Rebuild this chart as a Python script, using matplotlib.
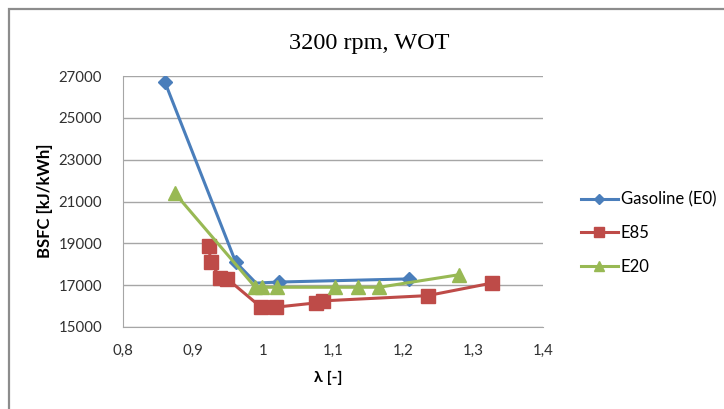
import numpy as np
import matplotlib
matplotlib.use("Agg")
from matplotlib import pyplot as plt
from matplotlib.patches import Rectangle

# lambda [-] and BSFC [kJ/kWh]
lam_e0 = [0.86, 0.961, 0.99, 1.023, 1.209]
bsfc_e0 = [26700, 18100, 17100, 17150, 17300]

lam_e85 = [0.923, 0.925, 0.939, 0.949, 0.997, 1.019, 1.075, 1.086, 1.235, 1.327]
bsfc_e85 = [18850, 18100, 17350, 17300, 15950, 15950, 16150, 16250, 16500, 17100]

lam_e20 = [0.874, 0.989, 0.998, 1.02, 1.103, 1.135, 1.166, 1.28]
bsfc_e20 = [21400, 16900, 16900, 16900, 16900, 16900, 16900, 17500]

series_names = ["Gasoline (E0)", "E85", "E20"]
x_ticks = [0.8, 0.9, 1.0, 1.1, 1.2, 1.3, 1.4]
x_tick_labels = ["0,8", "0,9", "1", "1,1", "1,2", "1,3", "1,4"]
y_ticks = [15000, 17000, 19000, 21000, 23000, 25000, 27000]

W, H = 724, 409
fig = plt.figure(figsize=(W / 100, H / 100), dpi=100)
fig.patch.set_facecolor("white")

# outer chart border (left and top visible)
fig.patches.append(Rectangle((9 / W, -0.1), 1.2, 1.1 - 9 / H,
                             transform=fig.transFigure, fill=False,
                             edgecolor="#8c8c8c", linewidth=1.6))

ax = fig.add_axes([123 / W, 1 - 327 / H, 420 / W, 251 / H])
ax.set_xlim(0.8, 1.4)
ax.set_ylim(15000, 27000)

# the bend point near lambda=1 has no visible marker in the original
ax.plot(lam_e0, bsfc_e0, color="#4a7ebb", lw=2.2, marker="D", ms=7,
        markevery=[0, 1, 3, 4], label=series_names[0], zorder=3)
ax.plot(lam_e85, bsfc_e85, color="#be4b48", lw=2.2, marker="s", ms=10,
        label=series_names[1], zorder=4)
ax.plot(lam_e20, bsfc_e20, color="#98b954", lw=2.2, marker="^", ms=10,
        label=series_names[2], zorder=5)

tick_font = "Lato"
ax.set_xticks(x_ticks)
ax.set_xticklabels(x_tick_labels, fontsize=10.8, family=tick_font, color="#303030")
ax.set_yticks(y_ticks)
ax.set_yticklabels([str(v) for v in y_ticks], fontsize=10.8, family=tick_font,
                   color="#303030")
ax.tick_params(axis="both", length=0)
ax.tick_params(axis="y", pad=15)
ax.tick_params(axis="x", pad=12)

ax.grid(axis="y", color="#a6a6a6", lw=1)
ax.set_axisbelow(True)
for s in ["top", "right"]:
    ax.spines[s].set_visible(False)
ax.spines["left"].set_color("#a6a6a6")
ax.spines["bottom"].set_color("#a6a6a6")

fig.text(369 / W, 1 - 44 / H, "3200 rpm, WOT", family="Liberation Serif",
         fontsize=17.5, ha="center", va="center")
fig.text(45 / W, 1 - 201 / H, "BSFC [kJ/kWh]", family=tick_font,
         fontweight="bold", fontsize=12, rotation=90, ha="center", va="center")
fig.text(328 / W, 1 - 378 / H, "λ [-]", family=["Lato", "DejaVu Sans"],
         fontweight="bold", fontsize=11.5, ha="center", va="center")

fig.legend(loc="center left", bbox_to_anchor=(581 / W, 1 - 233 / H),
           frameon=False, borderpad=0, borderaxespad=0, handlelength=2.2,
           handletextpad=0.2, labelspacing=1.05, markerscale=0.75,
           prop={"family": tick_font, "size": 12})

fig.savefig("out.png", dpi=100)
